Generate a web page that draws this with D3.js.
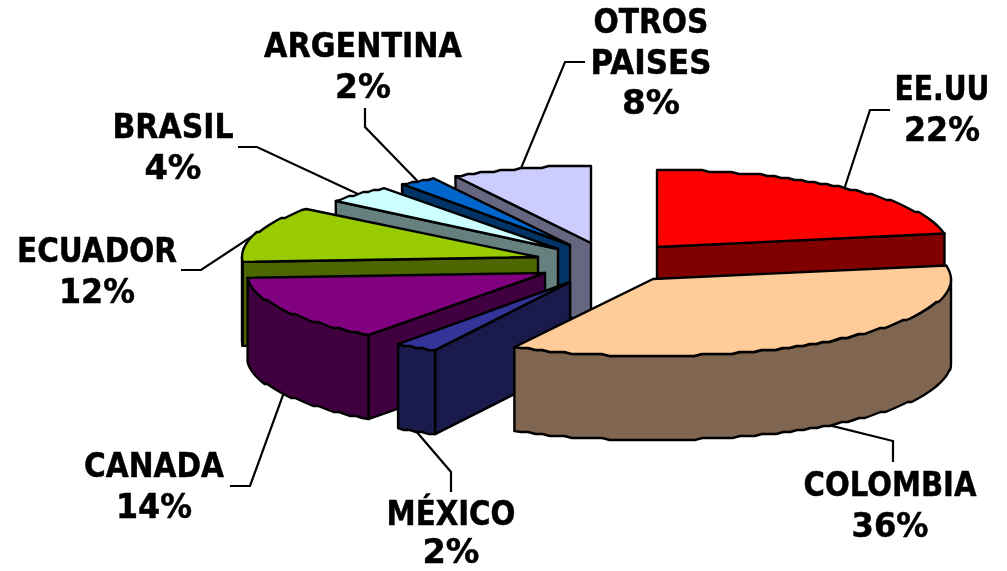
<!DOCTYPE html>
<html><head><meta charset="utf-8">
<script src="https://cdn.jsdelivr.net/npm/d3@7/dist/d3.min.js"></script>
<style>html,body{margin:0;padding:0;background:#fff}svg{display:block;filter:blur(0.35px)}
text{font-family:"DejaVu Sans",sans-serif;font-weight:bold;font-size:33px;fill:#000;stroke:#000;stroke-width:0.5px;text-anchor:middle}</style>
</head><body><svg id="c" width="1007" height="571"></svg>
<script>
// Data
const categories = ["EE.UU","COLOMBIA","MÉXICO","CANADA","ECUADOR","BRASIL","ARGENTINA","OTROS PAISES"];
const values = [22.2,35.5,2.4,13.9,11.7,3.8,2.2,8.3];
const topColors = ["#ff0000","#ffcc99","#333399","#800080","#99cc00","#ccffff","#0066cc","#ccccff"];
const sideColors = ["#800000","#806650","#1a1a4d","#400040","#4d6600","#668080","#003366","#666680"];
// Layout
const centerX = [657,653,570,545,538,558,570,591];
const centerY = [247,279,282,273,257,249,245,243];
const radiusX = [292,298,290,298,296,284,274,272];
const radiusY = 77, depth = 84;
const drawOrder = [7,6,5,4,3,2,0,1];
const labelLines = [["EE.UU"],["COLOMBIA"],["MÉXICO"],["CANADA"],["ECUADOR"],["BRASIL"],["ARGENTINA"],["OTROS","PAISES"]];
const labelWidths = [[95],[173],[129],[140],[160],[121],[198],[115,121]];
const pctWidths = [76,77,57,76,76,57,56,58];
const labelX = [942,890,451,154,97,173,363,651];
const labelY = [100,496,525,477,262,138,57,33];
const lineGaps = [40.5,40.5,38,40.5,40.5,40.5,40.5,40.5];
const elbow1 = [[870,110],[893,441],[451,472],[250,486],[201,270],[257,147],[365,127],[565,62]];
const elbow2 = [[890,110],[893,462],[451,492],[230,486],[181,270],[238,147],[365,108],[585,62]];

const pct = d3.format(".0f");
const arcs = d3.pie().sort(null).value(d=>d)(values);
const svg = d3.select("#c");
const pt = (i,a,dy=0)=>[centerX[i]+radiusX[i]*Math.sin(a), centerY[i]-radiusY*Math.cos(a)+dy];
const snap = p=>[p[0], Math.round(p[1]/2)*2];
function arcPts(i,a0,a1,dy=0){
  const n=Math.max(1,Math.ceil((a1-a0)/(1.5*Math.PI/180))), out=[pt(i,a0,dy)];
  for(let k=1;k<n;k++){ out.push(snap(pt(i,a0+(a1-a0)*k/n,dy))); }
  out.push(pt(i,a1,dy)); return out;
}
const path = d3.line();
const closed = pts=>path(pts)+"Z";

// leader lines sit under the slices
arcs.forEach((d,i)=>{
  const m=(d.startAngle+d.endAngle)/2;
  const front=Math.cos(m)<0;
  svg.append("path").attr("d",path([pt(i,m,front?depth:0),elbow1[i],elbow2[i]]))
    .attr("fill","none").attr("stroke","#000").attr("stroke-width",2.2);
});

const PI=Math.PI;
drawOrder.forEach(i=>{
  const d=arcs[i], g=svg.append("g").attr("stroke","#000").attr("stroke-width",2.4).attr("stroke-linejoin","round");
  const c=[centerX[i],centerY[i]], cb=[c[0],c[1]+depth];
  const face=a=>g.append("path").attr("fill",sideColors[i])
     .attr("d",closed([c,pt(i,a),pt(i,a,depth),cb]));
  if(Math.sin(d.endAngle)>0.001) face(d.endAngle);
  if(Math.sin(d.startAngle)<-0.001) face(d.startAngle);
  const s0=Math.max(d.startAngle,PI/2), s1=Math.min(d.endAngle,3*PI/2);
  if(s1>s0){
    const topEdge=arcPts(i,s0,s1), botEdge=arcPts(i,s0,s1,depth).reverse();
    g.append("path").attr("fill",sideColors[i]).attr("d",closed(topEdge.concat(botEdge)));
  }
  g.append("path").attr("fill",topColors[i]).attr("d",closed([c].concat(arcPts(i,d.startAngle,d.endAngle))));
});

// labels
arcs.forEach((d,i)=>{
  const lines=labelLines[i].concat([pct(d.value)+"%"]);
  const widths=labelWidths[i].concat([pctWidths[i]]);
  lines.forEach((t,k)=>svg.append("text").attr("x",labelX[i]).attr("y",labelY[i]+k*lineGaps[i])
    .attr("textLength",widths[k]).attr("lengthAdjust","spacingAndGlyphs").text(t));
});
</script></body></html>
